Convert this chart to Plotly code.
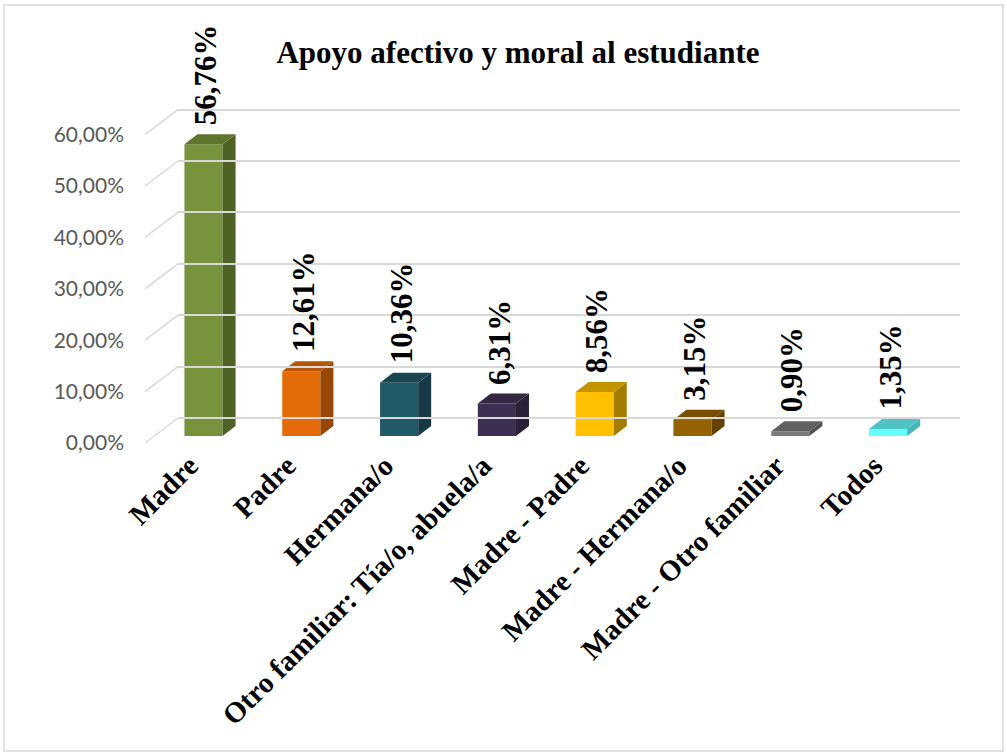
import plotly.graph_objects as go

categories = ["Madre", "Padre", "Hermana/o", "Otro familiar: Tía/o, abuela/a",
              "Madre - Padre", "Madre - Hermana/o", "Madre - Otro familiar", "Todos"]
values = [0.5676, 0.1261, 0.1036, 0.0631, 0.0856, 0.0315, 0.0090, 0.0135]
labels = ["56,76%", "12,61%", "10,36%", "6,31%", "8,56%", "3,15%", "0,90%", "1,35%"]
front_colors = ["#77933C", "#E36C09", "#1F5A66", "#3E2F52", "#FFC000", "#946200", "#7A7A7A", "#66FFFF"]
side_colors = ["#4E6226", "#974706", "#173845", "#2A2038", "#A47D00", "#644200", "#505050", "#45B5B5"]
top_colors = ["#5E752E", "#B45507", "#1A4653", "#332742", "#C49400", "#754E00", "#606060", "#4FC4C4"]
ticks = [0, 0.1, 0.2, 0.3, 0.4, 0.5, 0.6]

# geometry (pixels)
W, H = 1007, 756
L, R, T, B = 145, 960, 100, 445
spacing = 97.8          # px per category
x0_center = 203.5       # px center of first bar
per_unit = 514.0        # px per 1.0 (100%)
bar_w = 0.39
dx = 13 / spacing
dy = 10 / per_unit

def yr(zero_px):
    return [(zero_px - B) / per_unit, (zero_px - T) / per_unit]

xr = [(L - x0_center) / spacing, (R - x0_center) / spacing]
back_left = 178

fig = go.Figure()
idx = list(range(len(categories)))

# side faces and top faces
for i, v in enumerate(values):
    xl, xrr = i - bar_w / 2, i + bar_w / 2
    fig.add_trace(go.Scatter(
        x=[xrr, xrr + dx, xrr + dx, xrr, xrr],
        y=[0, dy, v + dy, v, 0],
        fill="toself", fillcolor=side_colors[i], mode="lines",
        line=dict(width=0), hoverinfo="skip", showlegend=False))
    fig.add_trace(go.Scatter(
        x=[xl, xl + dx, xrr + dx, xrr, xl],
        y=[v, v + dy, v + dy, v, v],
        fill="toself", fillcolor=top_colors[i], mode="lines",
        line=dict(width=0), hoverinfo="skip", showlegend=False))

fig.add_trace(go.Bar(x=idx, y=values, width=bar_w,
                     marker=dict(color=front_colors, line=dict(width=0)),
                     showlegend=False, hoverinfo="skip"))

# gridline axis (back wall)
fig.add_trace(go.Scatter(x=[0], y=[0], xaxis="x2", yaxis="y2", mode="markers",
                         marker=dict(opacity=0), showlegend=False, hoverinfo="skip"))
# tick label axis
fig.add_trace(go.Scatter(x=[0], y=[0], xaxis="x", yaxis="y3", mode="markers",
                         marker=dict(opacity=0), showlegend=False, hoverinfo="skip"))

annotations = []
for i, v in enumerate(values):
    annotations.append(dict(x=i + 0.02, y=v + dy, xref="x", yref="y", text=f"<b>{labels[i]}</b>",
                            textangle=-90, showarrow=False, xanchor="center", yanchor="bottom",
                            yshift=7,
                            font=dict(family="Liberation Serif", size=31, color="black")))

shapes = []
gx = (back_left - L) / (R - L)
for t in ticks:
    shapes.append(dict(type="line", xref="paper", yref="y3", x0=0, x1=gx,
                       y0=t, y1=t + 25 / per_unit, line=dict(color="#D9D9D9", width=1.5)))
# chart border
shapes.append(dict(type="rect", xref="paper", yref="paper",
                   x0=(4 - L) / (R - L), x1=(1003 - L) / (R - L),
                   y0=(B - 751) / (B - T), y1=(B - 5) / (B - T),
                   line=dict(color="#D9D9D9", width=1.5), layer="below"))

fig.update_layout(
    width=W, height=H,
    margin=dict(l=L, r=W - R, t=T, b=H - B),
    paper_bgcolor="white", plot_bgcolor="rgba(0,0,0,0)",
    separators=",.",
    title=dict(text="<b>Apoyo afectivo y moral al estudiante</b>", x=518 / W, xanchor="center",
               y=1 - 52 / H, yanchor="middle", xref="container",
               font=dict(family="Liberation Serif", size=31, color="black")),
    xaxis=dict(range=xr, tickmode="array", tickvals=idx, ticktext=[f"<b>{c}</b>" for c in categories],
               tickangle=-45, showgrid=False, zeroline=False, showline=False, ticks="",
               ticklabelshift=-14, ticklabelstandoff=-3,
               tickfont=dict(family="Liberation Serif", size=29, color="black")),
    xaxis2=dict(domain=[gx, 1], range=[0, 1], visible=False, anchor="y2"),
    yaxis=dict(range=yr(436), showgrid=False, zeroline=False, showticklabels=False),
    yaxis2=dict(range=yr(418), overlaying="y", anchor="x2", showgrid=True, gridcolor="#D9D9D9",
                gridwidth=1.5, tickvals=ticks, showticklabels=False, zeroline=False, layer="below traces"),
    yaxis3=dict(range=yr(443), overlaying="y", anchor="x", showgrid=False, zeroline=False,
                tickvals=ticks, tickformat=".2%", ticklabelstandoff=20,
                tickfont=dict(family="Lato", size=21, color="#595959")),
    annotations=annotations, shapes=shapes,
)
fig.write_html("out.html", post_script="document.body.style.margin='0';",
               config={"displayModeBar": False})
